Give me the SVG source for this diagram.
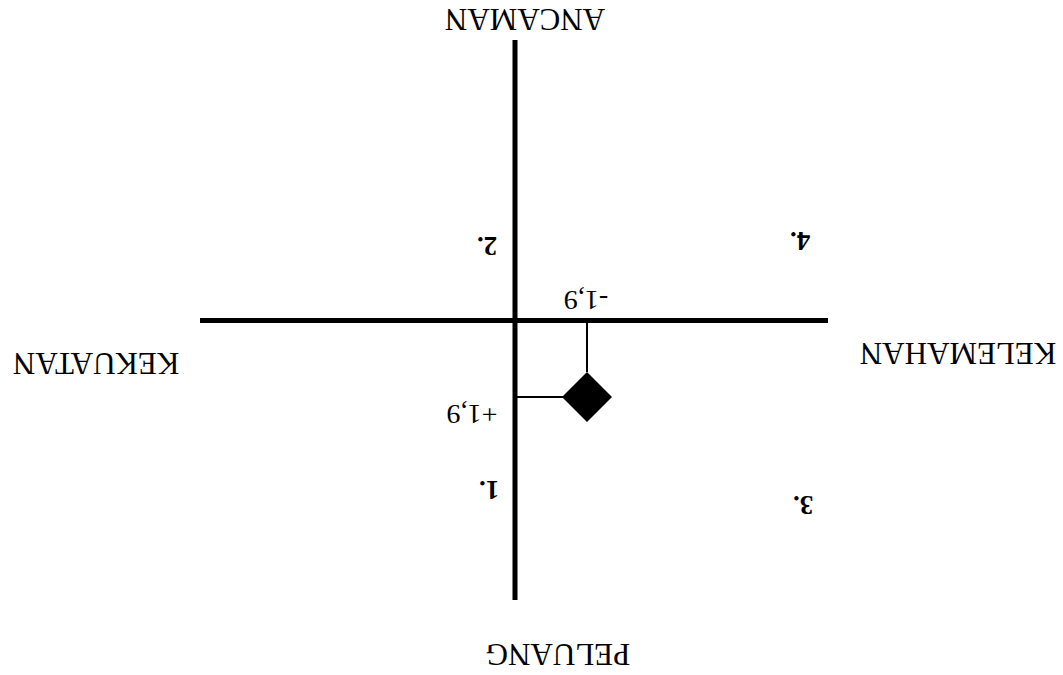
<svg xmlns="http://www.w3.org/2000/svg" width="1063" height="675" viewBox="0 0 1063 675">
<style>
.lbl{font-family:"Liberation Serif","Times New Roman",serif;font-size:31px;fill:#000;text-anchor:middle;dominant-baseline:central}
.num{font-family:"Liberation Serif","Times New Roman",serif;font-size:27px;font-weight:bold;fill:#000;text-anchor:middle;dominant-baseline:central}
.val{font-family:"Liberation Serif","Times New Roman",serif;font-size:28px;fill:#000;text-anchor:middle;dominant-baseline:central}
.axis{stroke:#000;stroke-width:5;fill:none}
.thin{stroke:#000;stroke-width:2;fill:none}
</style>
<rect width="1063" height="675" fill="#fff"/>
<g id="connectors">
<line class="axis" x1="515" y1="40" x2="515" y2="600"/>
<line class="axis" x1="200" y1="320.5" x2="828" y2="320.5"/>
<line class="thin" x1="587" y1="322" x2="587" y2="372"/>
<line class="thin" x1="517" y1="397" x2="563" y2="397"/>
</g>
<g id="marker-point"><polygon points="587,372 612,397 587,422 562,397" fill="#000"/></g>
<g id="label-ancaman"><text class="lbl" x="525" y="19" transform="rotate(180 525 19)">ANCAMAN</text></g>
<g id="label-kekuatan"><text class="lbl" x="96" y="363" transform="rotate(180 96 363)">KEKUATAN</text></g>
<g id="label-kelemahan"><text class="lbl" x="958" y="353" transform="rotate(180 958 353)">KELEMAHAN</text></g>
<g id="label-peluang"><text class="lbl" x="558" y="654" transform="rotate(180 558 654)">PELUANG</text></g>
<g id="q1"><text class="num" x="489" y="490" transform="rotate(180 489 490)">1.</text></g>
<g id="q2"><text class="num" x="487" y="246" transform="rotate(180 487 246)">2.</text></g>
<g id="q3"><text class="num" x="803" y="505" transform="rotate(180 803 505)">3.</text></g>
<g id="q4"><text class="num" x="800" y="241" transform="rotate(180 800 241)">4.</text></g>
<g id="val-x"><text class="val" x="586" y="300" transform="rotate(180 586 300)">-1,9</text></g>
<g id="val-y"><text class="val" x="472" y="414" transform="rotate(180 472 414)">+1,9</text></g>
</svg>
